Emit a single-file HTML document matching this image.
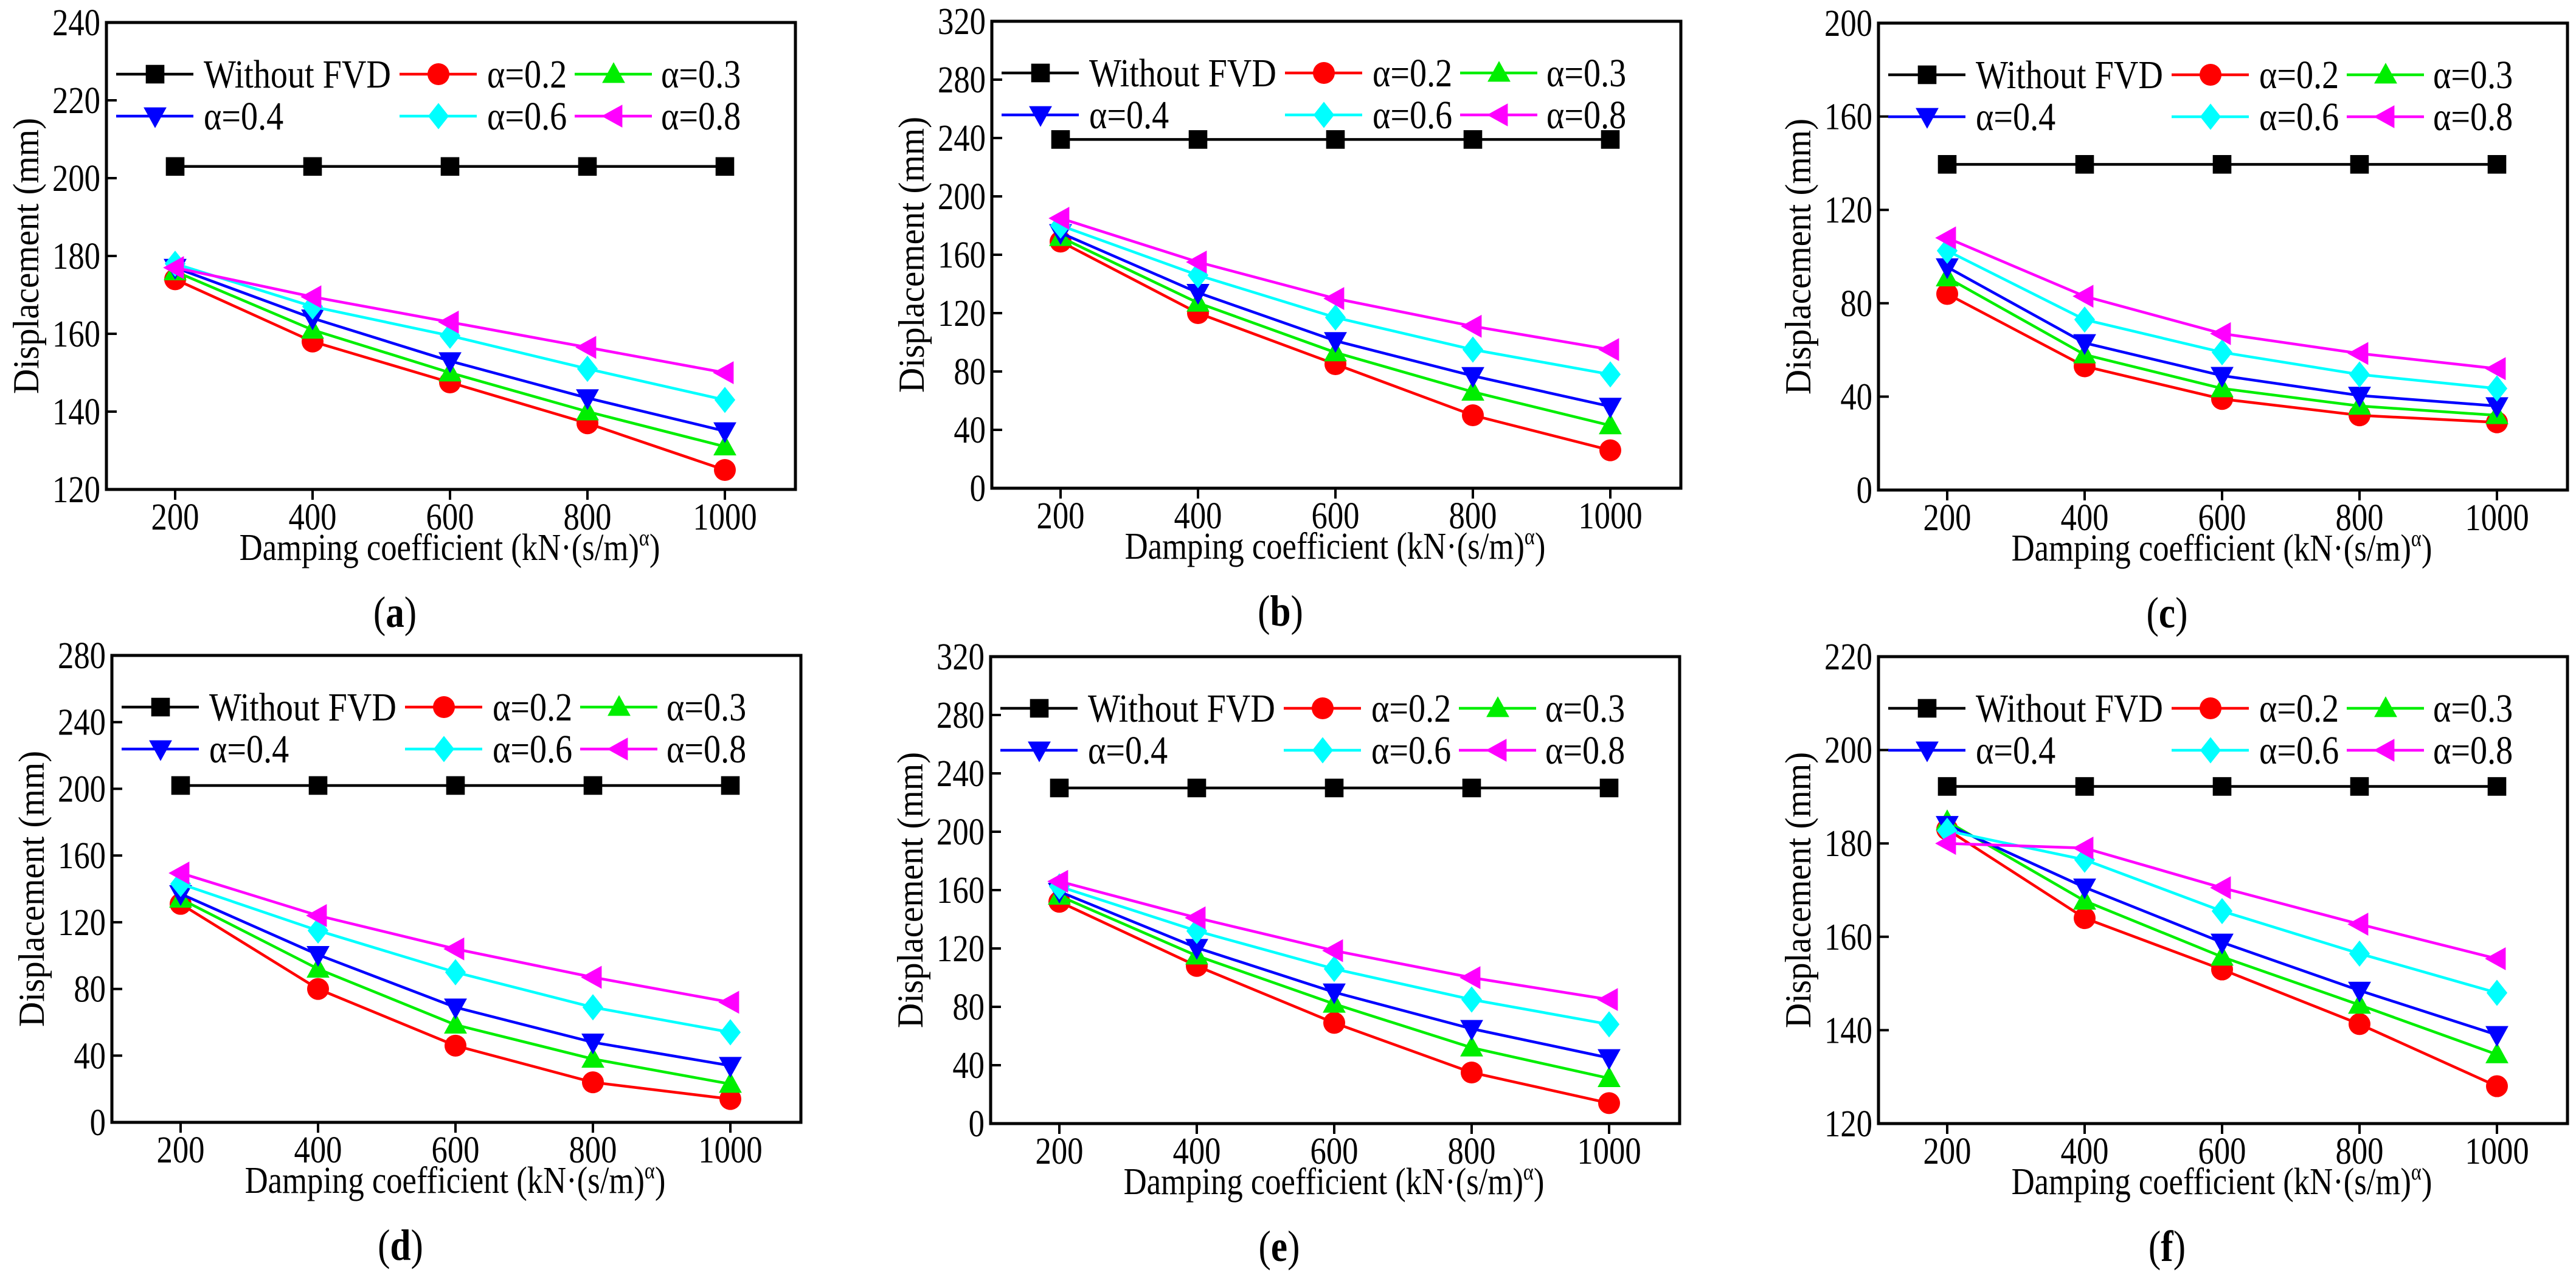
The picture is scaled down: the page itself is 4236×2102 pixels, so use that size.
<!DOCTYPE html>
<html><head><meta charset="utf-8"><style>
html,body{margin:0;padding:0;background:#fff;}
svg{display:block;font-family:"Liberation Serif",serif;}
text{font-family:"Liberation Serif",serif;}
</style></head><body>
<svg id="fig" width="4236" height="2102" viewBox="0 0 4236 2102" xmlns="http://www.w3.org/2000/svg"></svg>
<script>
const categories = [200, 400, 600, 800, 1000];
const seriesNames = ["Without FVD", "α=0.2", "α=0.3", "α=0.4", "α=0.6", "α=0.8"];
const panelLabels = ["a", "b", "c", "d", "e", "f"];
const yTicksA = [120, 140, 160, 180, 200, 220, 240];
const yTicksB = [0, 40, 80, 120, 160, 200, 240, 280, 320];
const yTicksC = [0, 40, 80, 120, 160, 200];
const yTicksD = [0, 40, 80, 120, 160, 200, 240, 280];
const yTicksE = [0, 40, 80, 120, 160, 200, 240, 280, 320];
const yTicksF = [120, 140, 160, 180, 200, 220];
const dataA = [[203,203,203,203,203],[174,158,147.5,137,125],[176,161,150,140,131],[177,164,153,143.5,135],[178,167,159.5,151,143],[177,169.5,163,156.5,150]];
const dataB = [[239,239,239,239,239],[169,120,85,50,26],[172,127,93,66,43],[175,134,101,77,56],[180,146,117,95,78],[185,155,130,111,95]];
const dataC = [[139.5,139.5,139.5,139.5,139.5],[84,53,39,32,29],[91,58,43.5,36,32],[95.5,63,49,40.5,36],[102.5,73,59,49.5,43.5],[108,83,67,58.5,52]];
const dataD = [[202,202,202,202,202],[131,80,46,24,14],[134,92,58.5,38,23],[137,100.5,69,48,34],[143,115,90,69,54],[149.5,124,104,87,72]];
const dataE = [[230,230,230,230,230],[152,108,69,35,14],[156,115,82,52,31],[159,120.5,90,65,45],[162.5,132,106,85,68],[166,141,118.5,100,85]];
const dataF = [[192.2,192.2,192.2,192.2,192.2],[183,164,153,141.3,128],[184.7,167.7,155.7,145.4,134.8],[184,170.6,158.8,148.5,139],[182.7,176.5,165.5,156.4,148],[180,179,170.5,162.7,155.3]];

const colors = ["#000000","#ff0000","#00ee00","#0000ff","#00ffff","#ff00ff"];
const markers = ["square","circle","up","down","diamond","left"];
const NS = "http://www.w3.org/2000/svg";
const svg = document.getElementById("fig");
const SX = 0.85;
function mk(tag, attrs, parent){const e=document.createElementNS(NS,tag);for(const k in attrs)e.setAttribute(k,attrs[k]);(parent||svg).appendChild(e);return e;}
function txt(parent, x, y, size, anchor, extra){
  let tr = `translate(${x},${y}) scale(${SX},1)`;
  if(extra) tr = extra + ` scale(${SX},1)`;
  return mk("text",{x:0,y:0,"font-size":size,"text-anchor":anchor,"font-family":"Liberation Serif, serif",transform:tr},parent);
}

const panels = [
 {left:175, top:37, ticks:yTicksA, data:dataA},
 {left:1631, top:35, ticks:yTicksB, data:dataB},
 {left:3089, top:38, ticks:yTicksC, data:dataC},
 {left:184, top:1078, ticks:yTicksD, data:dataD},
 {left:1629, top:1080, ticks:yTicksE, data:dataE},
 {left:3089, top:1080, ticks:yTicksF, data:dataF}
];
const W = 1133, H = 768;

function drawMarker(g, type, x, y, color, s){
  let el;
  if(type==="square") el=mk("rect",{x:x-s*0.85,y:y-s*0.85,width:s*1.7,height:s*1.7,fill:color},g);
  else if(type==="circle") el=mk("circle",{cx:x,cy:y,r:s,fill:color},g);
  else if(type==="up") el=mk("polygon",{points:`${x},${y-s*1.1} ${x-s*1.05},${y+s*0.8} ${x+s*1.05},${y+s*0.8}`,fill:color},g);
  else if(type==="down") el=mk("polygon",{points:`${x},${y+s*1.1} ${x-s*1.05},${y-s*0.8} ${x+s*1.05},${y-s*0.8}`,fill:color},g);
  else if(type==="diamond") el=mk("polygon",{points:`${x},${y-s*1.2} ${x+s*0.95},${y} ${x},${y+s*1.2} ${x-s*0.95},${y}`,fill:color},g);
  else el=mk("polygon",{points:`${x-s*1.1},${y} ${x+s*0.8},${y-s*1.05} ${x+s*0.8},${y+s*1.05}`,fill:color},g);
  return el;
}

panels.forEach((p, pi) => {
  const g = mk("g",{});
  
  
  const ymin = p.ticks[0], ymax = p.ticks[p.ticks.length-1];
  const xs = v => p.left + 113 + (v - 200) / 200 * 226;
  const ys = v => p.top + H - (v - ymin) / (ymax - ymin) * H;
  p.ticks.forEach(t => {
    const y = ys(t);
    const tk = mk("line",{x1:p.left,x2:p.left+17,y1:y,y2:y,stroke:"#000","stroke-width":4},g);
    
    
    const lb = txt(g, p.left-10, y+21, 62, "end");
    lb.textContent = t;
    
    
  });
  categories.forEach(c => {
    const x = xs(c);
    const tk = mk("line",{x1:x,x2:x,y1:p.top+H,y2:p.top+H+17,stroke:"#000","stroke-width":4},g);
    
    
    const lb = txt(g, x, p.top+H+66, 62, "middle");
    lb.textContent = c;
    
    
  });
  p.data.forEach((vals, si) => {
    const sg = mk("g",{},g);
    
    
    const pts = vals.map((v,i) => xs(categories[i]) + "," + ys(v)).join(" ");
    mk("polyline",{points:pts,fill:"none",stroke:colors[si],"stroke-width":4.5},sg);
    vals.forEach((v,i) => {
      const m = drawMarker(sg, markers[si], xs(categories[i]), ys(v), colors[si], 18);
      
      
    });
  });
  const fr = mk("rect",{x:p.left,y:p.top,width:W,height:H,fill:"none",stroke:"#000","stroke-width":5},g);
  
  
  const lg = mk("g",{},g);
  
  
  const colX = [16, 482, 770];
  const textX = [160, 626, 912];
  const rowY = [85, 154];
  const slots = [[0,0],[0,1],[0,2],[1,0],[1,1],[1,2]];
  seriesNames.forEach((nm, si) => {
    const [r,c] = slots[si];
    const ly = p.top + rowY[r], lx = p.left + colX[c];
    const e = mk("g",{},lg);
    
    
    mk("line",{x1:lx,x2:lx+127,y1:ly,y2:ly,stroke:colors[si],"stroke-width":4.5},e);
    drawMarker(e, markers[si], lx+64, ly, colors[si], 18);
    const t = txt(e, p.left+textX[c], ly+22, 66, "start");
    t.textContent = nm;
  });
  const yt = txt(g, 0, 0, 60, "middle", `translate(${p.left-112},${p.top+H/2}) rotate(-90)`);
  yt.setAttribute("transform", `translate(${p.left-112},${p.top+H/2}) rotate(-90) scale(0.95,1)`);
  yt.textContent = "Displacement (mm)";
  
  
  const xt = txt(g, p.left+W/2-2, p.top+H+116, 62, "middle");
  
  
  xt.appendChild(document.createTextNode("Damping coefficient (kN·(s/m)"));
  const sup = mk("tspan",{"font-size":38,dy:-24},xt); sup.textContent = "α";
  const cl = mk("tspan",{dy:24},xt); cl.textContent = ")";
  const pl = txt(g, p.left+W/2-92, p.top+H+226, 72, "middle");
  
  
  pl.appendChild(document.createTextNode("("));
  const b = mk("tspan",{"font-weight":"bold"},pl); b.textContent = panelLabels[pi];
  const c2 = mk("tspan",{},pl); c2.textContent = ")";
});
</script>
</body></html>
